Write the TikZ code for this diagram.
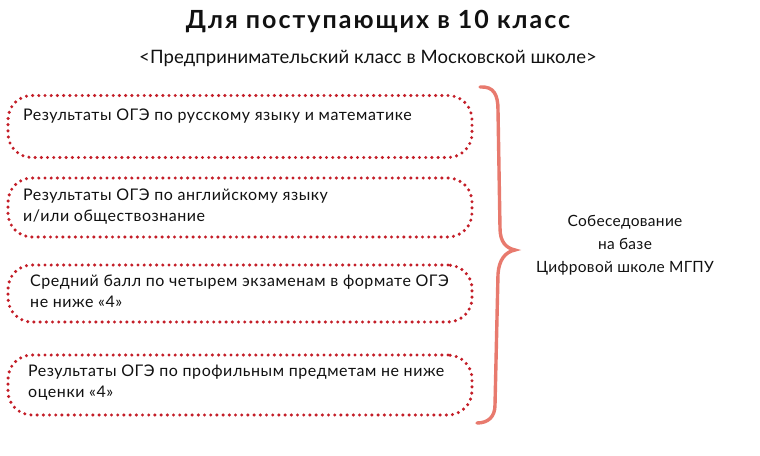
\documentclass[tikz,border=0pt]{standalone}
\usepackage{fontspec}
\setmainfont{Lato}
\newfontfamily\bodyfont{Lato}[LetterSpace=3.5]
\newfontfamily\titlefont{Lato}[LetterSpace=8]
\newfontfamily\subfont{Lato}[LetterSpace=0.5]
\newfontfamily\sidefont{Lato}[LetterSpace=2]
\definecolor{dotred}{HTML}{C41E28}
\definecolor{bracered}{HTML}{E87A6E}
\definecolor{ink}{HTML}{111111}
\begin{document}
\begin{tikzpicture}[x=1pt,y=-1pt,
  reqbox/.style={draw=dotred, line width=3.4pt, line cap=round,
     dash pattern=on 0pt off 6.2pt, rounded corners=24pt,
     minimum width=464pt, inner sep=0pt, fill=none},
  reqtext/.style={anchor=base west, inner sep=0pt, text=ink,
     font=\bodyfont\fontsize{16}{21}\selectfont, align=left},
  sidetext/.style={anchor=base, inner sep=0pt, text=ink,
     font=\sidefont\fontsize{15.5}{23}\selectfont, align=center}]
\useasboundingbox[fill=white] (0,0) rectangle (760,455);

\node[anchor=base, inner sep=0pt, text=ink, font=\titlefont\fontsize{25}{30}\selectfont\bfseries] (title) at (378,28.3) {Для поступающих в 10 класс};
\node[anchor=base, inner sep=0pt, text=ink, font=\subfont\fontsize{18.5}{22}\selectfont] (sub) at (368,63.3) {<Предпринимательский класс в Московской школе>};

\node[reqbox, minimum height=62pt] (b1) at (240,126.5) {};
\node[reqbox, minimum height=59pt] (b2) at (240,207.5) {};
\node[reqbox, minimum height=57pt] (b3) at (240,293.5) {};
\node[reqbox, minimum height=60pt] (b4) at (240,385) {};

\node[reqtext] (t1) at (23,120.3) {Результаты ОГЭ по русскому языку и математике};
\node[reqtext] (t2) at (23,221.7) {Результаты ОГЭ по английскому языку\\и/или обществознание};
\node[reqtext] (t3) at (30,307) {Средний балл по четырем экзаменам в формате ОГЭ\\не ниже «4»};
\node[reqtext] (t4) at (28,397) {Результаты ОГЭ по профильным предметам не ниже\\оценки «4»};

\coordinate (bt) at (480,87);
\coordinate (bm) at (515,250);
\coordinate (bb) at (477,423);
\draw[bracered, line width=3.4pt, line cap=round]
  (bt) .. controls (494,86) and (498,95) .. (498,110)
  -- (500,228) .. controls (500,242) and (506,248) .. (bm)
  .. controls (505,252) and (499,260) .. (498,274)
  -- (495,405) .. controls (495,417) and (488,423) .. (bb);

\node[sidetext] (s) at (625,272) {Собеседование\\на базе\\Цифровой школе МГПУ};
\end{tikzpicture}
\end{document}
